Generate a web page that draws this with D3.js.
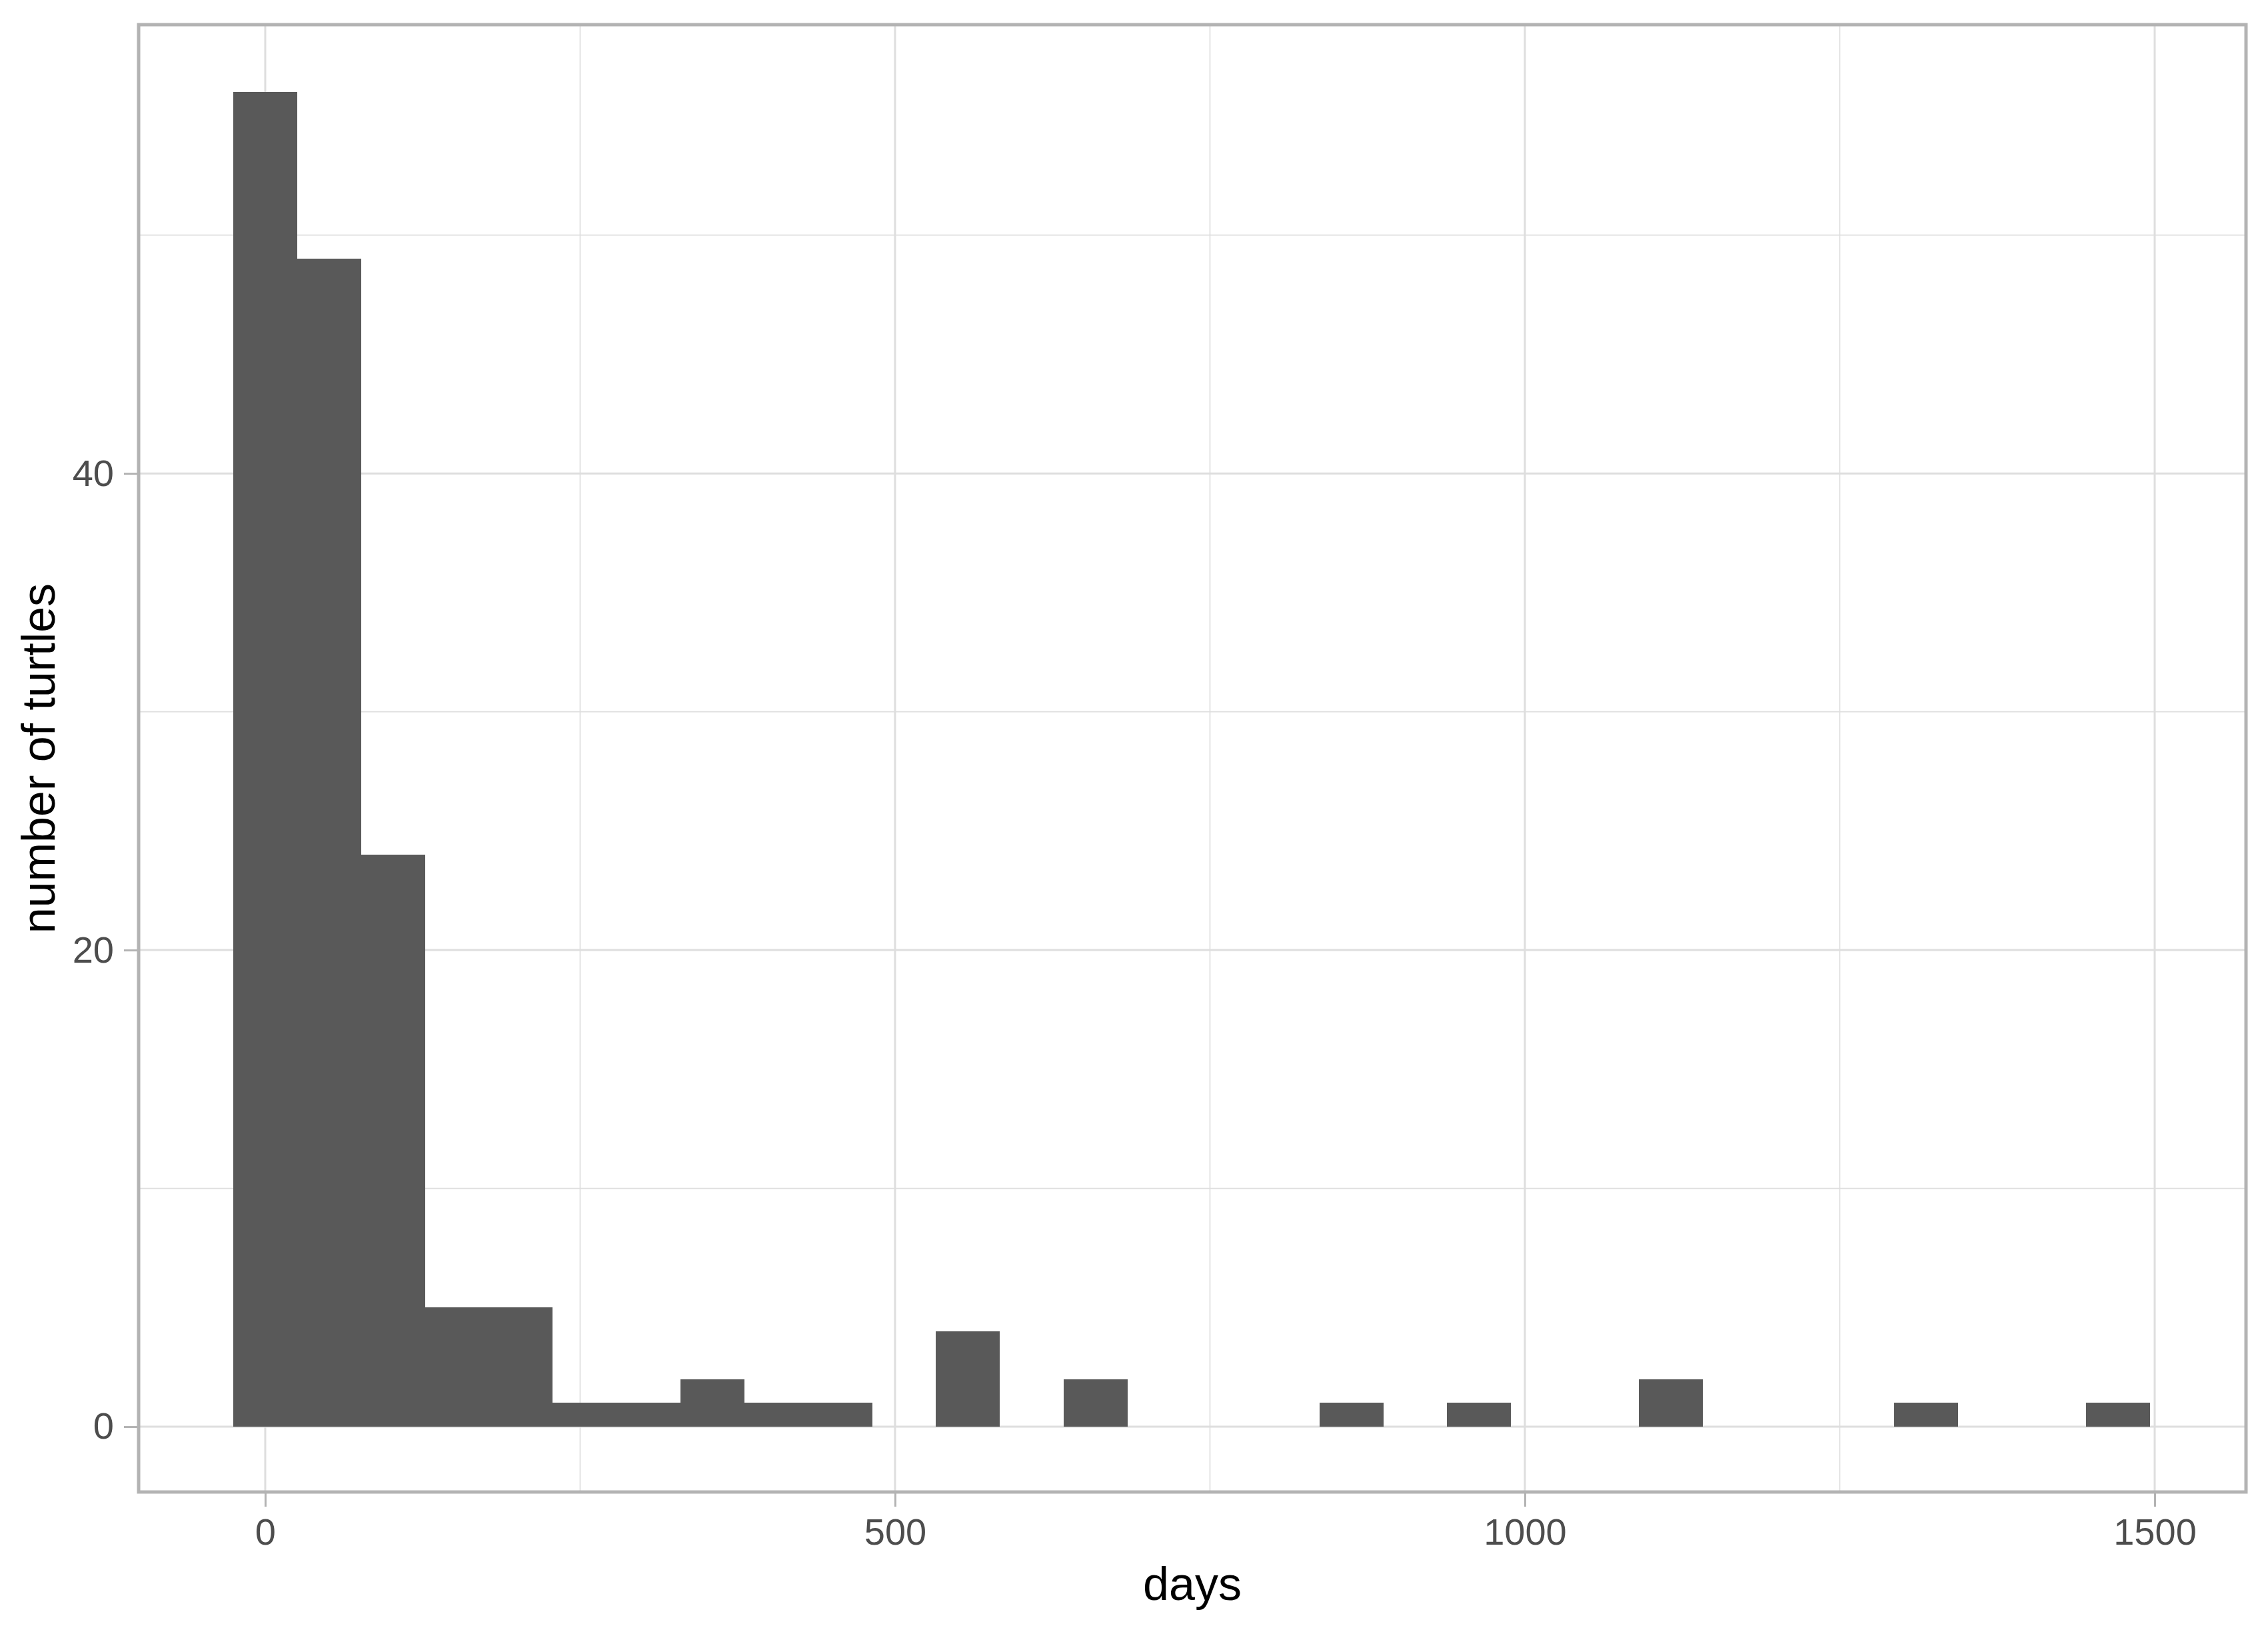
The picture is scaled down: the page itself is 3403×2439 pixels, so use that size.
<html>
<meta charset="utf-8" />
<head>
<title>days histogram</title>
<script src="https://cdn.jsdelivr.net/npm/d3@7/dist/d3.min.js"></script>
<style>
  body { margin: 0; background: #fff; }
  text { font-family: "Liberation Sans", Arial, sans-serif; }
</style>
<script>
// histogram bins (center in days) and counts
const binWidth = 50.72;
const binCenters = [0, 50.72, 101.44, 152.16, 202.88, 253.6, 304.32, 355.04, 405.76, 456.48,
  507.2, 557.92, 608.64, 659.36, 710.08, 760.8, 811.52, 862.24, 912.96, 963.68,
  1014.4, 1065.12, 1115.84, 1166.56, 1217.28, 1268, 1318.72, 1369.44, 1420.16, 1470.88];
const counts = [56, 49, 24, 5, 5, 1, 1, 2, 1, 1,
  0, 4, 0, 2, 0, 0, 0, 1, 0, 1,
  0, 0, 2, 0, 0, 0, 1, 0, 0, 1];

const xMajor = [0, 500, 1000, 1500];
const xMinor = [250, 750, 1250];
const yMajor = [0, 20, 40];
const yMinor = [10, 30, 50];

window.onload = function() {
  const svg = d3.select('svg');
  const left = 208, right = 3370, top = 37, bottom = 2238;

  let xScale = d3.scaleLinear().domain([-100.5, 1572.5]).range([left, right]);
  let yScale = d3.scaleLinear().domain([-2.74, 58.83]).range([bottom, top]);

  // panel background
  svg.append('rect').attr('x', left).attr('y', top)
    .attr('width', right - left).attr('height', bottom - top)
    .style('fill', 'white');

  // grid, minor first then major
  let grid = svg.append('g').attr('class', 'grid');
  grid.selectAll('line.xminor').data(xMinor).enter().append('line')
    .attr('x1', d => xScale(d)).attr('x2', d => xScale(d))
    .attr('y1', top).attr('y2', bottom)
    .style('stroke', '#dedede').style('stroke-width', '1.7px');
  grid.selectAll('line.yminor').data(yMinor).enter().append('line')
    .attr('y1', d => yScale(d)).attr('y2', d => yScale(d))
    .attr('x1', left).attr('x2', right)
    .style('stroke', '#dedede').style('stroke-width', '1.7px');
  grid.selectAll('line.xmajor').data(xMajor).enter().append('line')
    .attr('x1', d => xScale(d)).attr('x2', d => xScale(d))
    .attr('y1', top).attr('y2', bottom)
    .style('stroke', '#dedede').style('stroke-width', '3px');
  grid.selectAll('line.ymajor').data(yMajor).enter().append('line')
    .attr('y1', d => yScale(d)).attr('y2', d => yScale(d))
    .attr('x1', left).attr('x2', right)
    .style('stroke', '#dedede').style('stroke-width', '3px');

  // bars (crispEdges so neighbouring bars don't leave a seam)
  let bins = binCenters.map((c, i) => ({ x0: c - binWidth / 2, x1: c + binWidth / 2, n: counts[i] }))
    .filter(d => d.n > 0);
  svg.selectAll('rect.bar').data(bins).enter().append('rect')
    .attr('class', 'bar')
    .attr('x', d => xScale(d.x0))
    .attr('width', d => xScale(d.x1) - xScale(d.x0))
    .attr('y', d => yScale(d.n))
    .attr('height', d => yScale(0) - yScale(d.n))
    .attr('shape-rendering', 'crispEdges')
    .style('fill', '#595959');

  // panel border
  svg.append('rect').attr('x', left).attr('y', top)
    .attr('width', right - left).attr('height', bottom - top)
    .style('fill', 'none').style('stroke', '#b3b3b3').style('stroke-width', '5px');

  // axes
  let xAxis = d3.axisBottom(xScale).tickValues(xMajor).tickFormat(d3.format('d'))
    .tickSize(20).tickPadding(17);
  let gx = svg.append('g').attr('transform', 'translate(0,' + (bottom + 2) + ')').call(xAxis);
  let yAxis = d3.axisLeft(yScale).tickValues(yMajor).tickFormat(d3.format('d'))
    .tickSize(20).tickPadding(15);
  let gy = svg.append('g').attr('transform', 'translate(' + (left - 2) + ',0)').call(yAxis);

  [gx, gy].forEach(g => {
    g.select('path.domain').remove();
    g.selectAll('line').style('stroke', '#b3b3b3').style('stroke-width', '3px');
    g.selectAll('text').style('fill', '#4d4d4d').style('font-size', '56px')
      .style('font-family', '"Liberation Sans", Arial, sans-serif');
  });

  // axis titles
  svg.append('text').attr('x', (left + right) / 2).attr('y', 2400)
    .attr('text-anchor', 'middle').style('font-size', '70px').style('fill', 'black')
    .text('days');
  svg.append('text')
    .attr('transform', 'translate(82,' + (top + bottom) / 2 + ') rotate(-90)')
    .attr('text-anchor', 'middle').style('font-size', '70px').style('fill', 'black')
    .text('number of turtles');
}
</script>
</head>
<body>
<svg width="3403" height="2439"></svg>
</body>
</html>
